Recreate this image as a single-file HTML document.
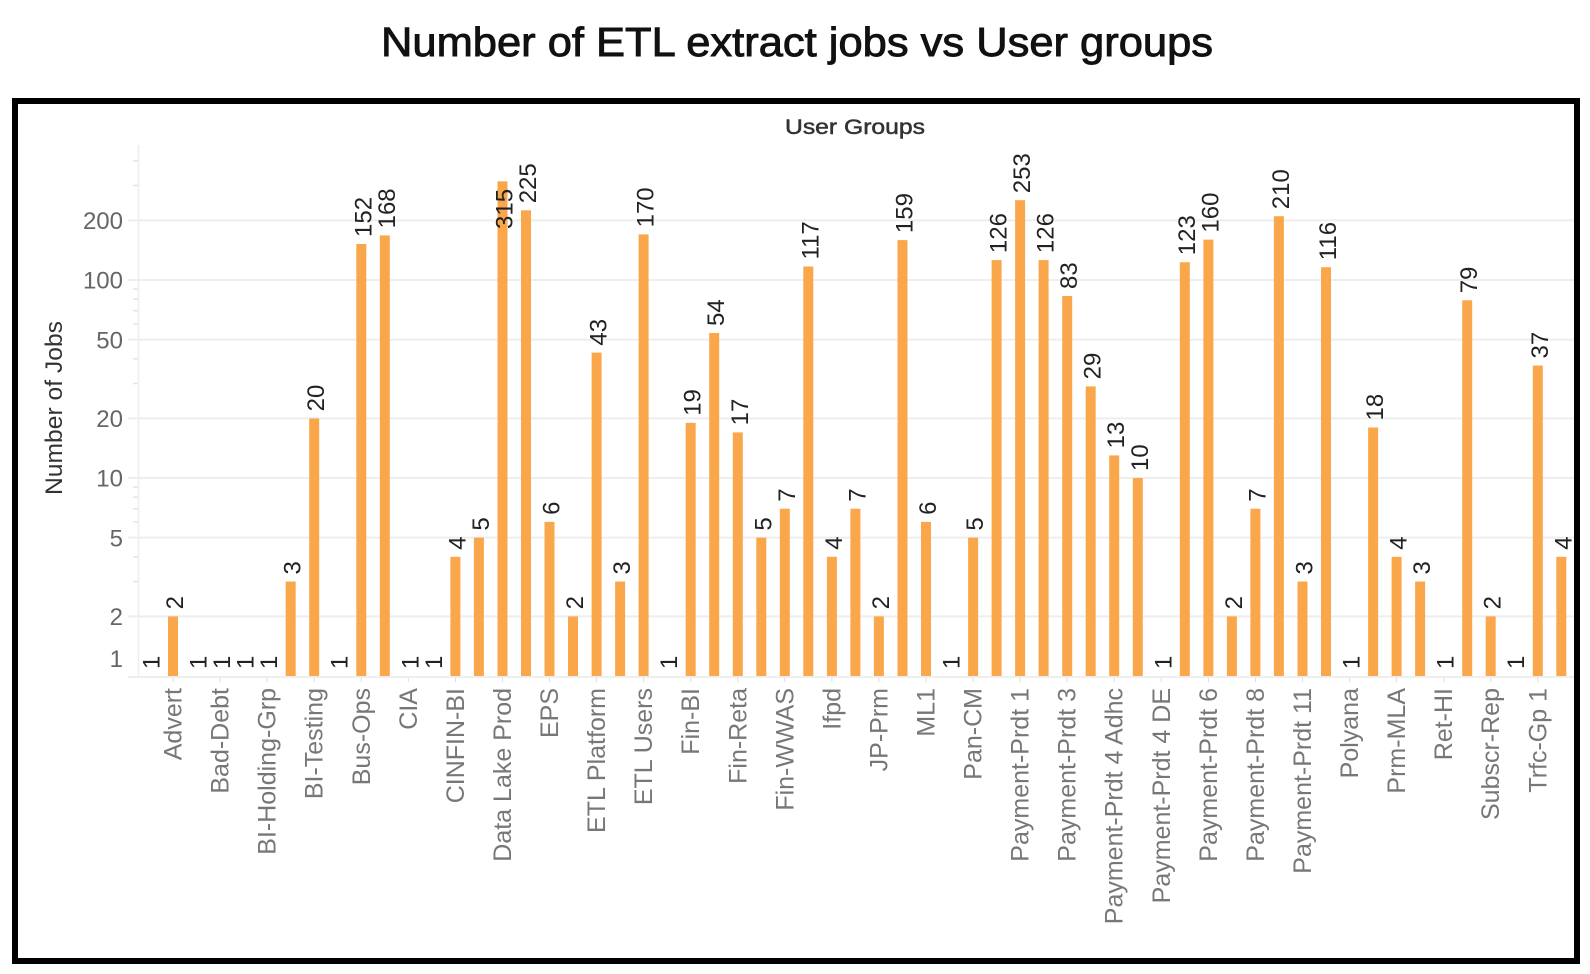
<!DOCTYPE html>
<html>
<head>
<meta charset="utf-8">
<style>
  html, body { margin: 0; padding: 0; background: #ffffff; }
  body { width: 1590px; height: 974px; overflow: hidden; }
  svg { display: block; font-family: "Liberation Sans", "DejaVu Sans", sans-serif; }
  .val { font-size: 24px; fill: #222222; }
  .xl { font-size: 25px; fill: #777777; }
  .yl { font-size: 24px; fill: #666666; }
  .bar { fill: #FAA74C; }
</style>
</head>
<body>
<svg width="1590" height="974" viewBox="0 0 1590 974" xmlns="http://www.w3.org/2000/svg">
  <rect x="0" y="0" width="1590" height="974" fill="#ffffff"/>

  <!-- Title -->
  <text x="381" y="56" font-size="41" fill="#111111" stroke="#111111" stroke-width="0.9" textLength="832" lengthAdjust="spacingAndGlyphs">Number of ETL extract jobs vs User groups</text>

  <!-- Border -->
  <rect x="15" y="101" width="1562" height="860" fill="none" stroke="#000000" stroke-width="6"/>

  <!-- Header -->
  <text x="785" y="134" font-size="21" fill="#333333" stroke="#333333" stroke-width="0.5" textLength="140" lengthAdjust="spacingAndGlyphs">User Groups</text>

  <!-- Y axis title -->
  <text transform="translate(62,408) rotate(-90)" text-anchor="middle" font-size="24" fill="#333333" textLength="174" lengthAdjust="spacingAndGlyphs">Number of Jobs</text>

  <!-- Gridlines -->
  <g stroke="#eeeeee" stroke-width="2">
    <line x1="128" y1="220.4" x2="1574" y2="220.4"/>
    <line x1="128" y1="280" x2="1574" y2="280"/>
    <line x1="128" y1="339.6" x2="1574" y2="339.6"/>
    <line x1="128" y1="418.4" x2="1574" y2="418.4"/>
    <line x1="128" y1="478" x2="1574" y2="478"/>
    <line x1="128" y1="537.6" x2="1574" y2="537.6"/>
    <line x1="128" y1="616.4" x2="1574" y2="616.4"/>
    <line x1="128" y1="677" x2="1574" y2="677"/>
  </g>
  <!-- Y axis line -->
  <line x1="138.5" y1="145" x2="138.5" y2="677" stroke="#eeeeee" stroke-width="1.5"/>
  <!-- Minor ticks -->
  <g stroke="#e4e4e4" stroke-width="1.5">
    <line x1="133" y1="160.8" x2="138" y2="160.8"/>
    <line x1="133" y1="185.5" x2="138" y2="185.5"/>
    <line x1="133" y1="289.1" x2="138" y2="289.1"/>
    <line x1="133" y1="299.2" x2="138" y2="299.2"/>
    <line x1="133" y1="310.7" x2="138" y2="310.7"/>
    <line x1="133" y1="323.9" x2="138" y2="323.9"/>
    <line x1="133" y1="358.8" x2="138" y2="358.8"/>
    <line x1="133" y1="383.5" x2="138" y2="383.5"/>
    <line x1="133" y1="487.1" x2="138" y2="487.1"/>
    <line x1="133" y1="497.2" x2="138" y2="497.2"/>
    <line x1="133" y1="508.7" x2="138" y2="508.7"/>
    <line x1="133" y1="521.9" x2="138" y2="521.9"/>
    <line x1="133" y1="556.8" x2="138" y2="556.8"/>
    <line x1="133" y1="581.5" x2="138" y2="581.5"/>
  </g>

  <!-- Y tick labels -->
  <g class="yl" text-anchor="end">
    <text x="123" y="229">200</text>
    <text x="123" y="288.7">100</text>
    <text x="123" y="348.3">50</text>
    <text x="123" y="427.1">20</text>
    <text x="123" y="486.7">10</text>
    <text x="123" y="546.3">5</text>
    <text x="123" y="625.1">2</text>
    <text x="123" y="667">1</text>
  </g>

  <!-- X tick marks -->
  <g stroke="#dddddd" stroke-width="1">
    <line x1="173" y1="678" x2="173" y2="682"/>
    <line x1="220.1" y1="678" x2="220.1" y2="682"/>
    <line x1="267.2" y1="678" x2="267.2" y2="682"/>
    <line x1="314.2" y1="678" x2="314.2" y2="682"/>
    <line x1="361.3" y1="678" x2="361.3" y2="682"/>
    <line x1="408.3" y1="678" x2="408.3" y2="682"/>
    <line x1="455.4" y1="678" x2="455.4" y2="682"/>
    <line x1="502.5" y1="678" x2="502.5" y2="682"/>
    <line x1="549.5" y1="678" x2="549.5" y2="682"/>
    <line x1="596.6" y1="678" x2="596.6" y2="682"/>
    <line x1="643.6" y1="678" x2="643.6" y2="682"/>
    <line x1="690.7" y1="678" x2="690.7" y2="682"/>
    <line x1="737.8" y1="678" x2="737.8" y2="682"/>
    <line x1="784.8" y1="678" x2="784.8" y2="682"/>
    <line x1="831.9" y1="678" x2="831.9" y2="682"/>
    <line x1="878.9" y1="678" x2="878.9" y2="682"/>
    <line x1="926" y1="678" x2="926" y2="682"/>
    <line x1="973.1" y1="678" x2="973.1" y2="682"/>
    <line x1="1020.1" y1="678" x2="1020.1" y2="682"/>
    <line x1="1067.2" y1="678" x2="1067.2" y2="682"/>
    <line x1="1114.2" y1="678" x2="1114.2" y2="682"/>
    <line x1="1161.3" y1="678" x2="1161.3" y2="682"/>
    <line x1="1208.4" y1="678" x2="1208.4" y2="682"/>
    <line x1="1255.4" y1="678" x2="1255.4" y2="682"/>
    <line x1="1302.5" y1="678" x2="1302.5" y2="682"/>
    <line x1="1349.5" y1="678" x2="1349.5" y2="682"/>
    <line x1="1396.6" y1="678" x2="1396.6" y2="682"/>
    <line x1="1443.7" y1="678" x2="1443.7" y2="682"/>
    <line x1="1490.7" y1="678" x2="1490.7" y2="682"/>
    <line x1="1537.8" y1="678" x2="1537.8" y2="682"/>
  </g>

  <!-- Bars -->
  <g class="bar">
    <rect x="168" y="616.4" width="10" height="59.6"/>
    <rect x="285.7" y="581.5" width="10" height="94.5"/>
    <rect x="309.2" y="418.4" width="10" height="257.6"/>
    <rect x="356.3" y="244" width="10" height="432"/>
    <rect x="379.8" y="235.4" width="10" height="440.6"/>
    <rect x="450.4" y="556.8" width="10" height="119.2"/>
    <rect x="473.9" y="537.6" width="10" height="138.4"/>
    <rect x="497.5" y="181.3" width="10" height="494.7"/>
    <rect x="521" y="210.3" width="10" height="465.7"/>
    <rect x="544.5" y="521.9" width="10" height="154.1"/>
    <rect x="568" y="616.4" width="10" height="59.6"/>
    <rect x="591.6" y="352.6" width="10" height="323.4"/>
    <rect x="615.1" y="581.5" width="10" height="94.5"/>
    <rect x="638.6" y="234.4" width="10" height="441.6"/>
    <rect x="685.7" y="422.8" width="10" height="253.2"/>
    <rect x="709.2" y="333" width="10" height="343"/>
    <rect x="732.8" y="432.4" width="10" height="243.6"/>
    <rect x="756.3" y="537.6" width="10" height="138.4"/>
    <rect x="779.8" y="508.7" width="10" height="167.3"/>
    <rect x="803.3" y="266.5" width="10" height="409.5"/>
    <rect x="826.9" y="556.8" width="10" height="119.2"/>
    <rect x="850.4" y="508.7" width="10" height="167.3"/>
    <rect x="873.9" y="616.4" width="10" height="59.6"/>
    <rect x="897.5" y="240.1" width="10" height="435.9"/>
    <rect x="921" y="521.9" width="10" height="154.1"/>
    <rect x="968.1" y="537.6" width="10" height="138.4"/>
    <rect x="991.6" y="260.1" width="10" height="415.9"/>
    <rect x="1015.1" y="200.2" width="10" height="475.8"/>
    <rect x="1038.6" y="260.1" width="10" height="415.9"/>
    <rect x="1062.2" y="296" width="10" height="380"/>
    <rect x="1085.7" y="386.4" width="10" height="289.6"/>
    <rect x="1109.2" y="455.4" width="10" height="220.6"/>
    <rect x="1132.8" y="478" width="10" height="198"/>
    <rect x="1179.8" y="262.2" width="10" height="413.8"/>
    <rect x="1203.4" y="239.6" width="10" height="436.4"/>
    <rect x="1226.9" y="616.4" width="10" height="59.6"/>
    <rect x="1250.4" y="508.7" width="10" height="167.3"/>
    <rect x="1273.9" y="216.2" width="10" height="459.8"/>
    <rect x="1297.5" y="581.5" width="10" height="94.5"/>
    <rect x="1321" y="267.2" width="10" height="408.8"/>
    <rect x="1368.1" y="427.5" width="10" height="248.5"/>
    <rect x="1391.6" y="556.8" width="10" height="119.2"/>
    <rect x="1415.1" y="581.5" width="10" height="94.5"/>
    <rect x="1462.2" y="300.3" width="10" height="375.7"/>
    <rect x="1485.7" y="616.4" width="10" height="59.6"/>
    <rect x="1532.8" y="365.5" width="10" height="310.5"/>
    <rect x="1556.3" y="556.8" width="10" height="119.2"/>
  </g>

  <!-- Value labels -->
  <g class="val">
    <text transform="translate(159.5,669) rotate(-90)">1</text>
    <text transform="translate(183,609.4) rotate(-90)">2</text>
    <text transform="translate(206.6,669) rotate(-90)">1</text>
    <text transform="translate(230.1,669) rotate(-90)">1</text>
    <text transform="translate(253.6,669) rotate(-90)">1</text>
    <text transform="translate(277.2,669) rotate(-90)">1</text>
    <text transform="translate(300.7,574.5) rotate(-90)">3</text>
    <text transform="translate(324.2,411.4) rotate(-90)">20</text>
    <text transform="translate(347.7,669) rotate(-90)">1</text>
    <text transform="translate(371.3,237) rotate(-90)">152</text>
    <text transform="translate(394.8,228.4) rotate(-90)">168</text>
    <text transform="translate(418.3,669) rotate(-90)">1</text>
    <text transform="translate(441.9,669) rotate(-90)">1</text>
    <text transform="translate(465.4,549.8) rotate(-90)">4</text>
    <text transform="translate(488.9,530.6) rotate(-90)">5</text>
    <text transform="translate(512.5,229) rotate(-90)">315</text>
    <text transform="translate(536,203.3) rotate(-90)">225</text>
    <text transform="translate(559.5,514.9) rotate(-90)">6</text>
    <text transform="translate(583,609.4) rotate(-90)">2</text>
    <text transform="translate(606.6,345.6) rotate(-90)">43</text>
    <text transform="translate(630.1,574.5) rotate(-90)">3</text>
    <text transform="translate(653.6,227.4) rotate(-90)">170</text>
    <text transform="translate(677.2,669) rotate(-90)">1</text>
    <text transform="translate(700.7,415.8) rotate(-90)">19</text>
    <text transform="translate(724.2,326) rotate(-90)">54</text>
    <text transform="translate(747.8,425.4) rotate(-90)">17</text>
    <text transform="translate(771.3,530.6) rotate(-90)">5</text>
    <text transform="translate(794.8,501.7) rotate(-90)">7</text>
    <text transform="translate(818.3,259.5) rotate(-90)">117</text>
    <text transform="translate(841.9,549.8) rotate(-90)">4</text>
    <text transform="translate(865.4,501.7) rotate(-90)">7</text>
    <text transform="translate(888.9,609.4) rotate(-90)">2</text>
    <text transform="translate(912.5,233.1) rotate(-90)">159</text>
    <text transform="translate(936,514.9) rotate(-90)">6</text>
    <text transform="translate(959.5,669) rotate(-90)">1</text>
    <text transform="translate(983.1,530.6) rotate(-90)">5</text>
    <text transform="translate(1006.6,253.1) rotate(-90)">126</text>
    <text transform="translate(1030.1,193.2) rotate(-90)">253</text>
    <text transform="translate(1053.6,253.1) rotate(-90)">126</text>
    <text transform="translate(1077.2,289) rotate(-90)">83</text>
    <text transform="translate(1100.7,379.4) rotate(-90)">29</text>
    <text transform="translate(1124.2,448.4) rotate(-90)">13</text>
    <text transform="translate(1147.8,471) rotate(-90)">10</text>
    <text transform="translate(1171.3,669) rotate(-90)">1</text>
    <text transform="translate(1194.8,255.2) rotate(-90)">123</text>
    <text transform="translate(1218.4,232.6) rotate(-90)">160</text>
    <text transform="translate(1241.9,609.4) rotate(-90)">2</text>
    <text transform="translate(1265.4,501.7) rotate(-90)">7</text>
    <text transform="translate(1288.9,209.2) rotate(-90)">210</text>
    <text transform="translate(1312.5,574.5) rotate(-90)">3</text>
    <text transform="translate(1336,260.2) rotate(-90)">116</text>
    <text transform="translate(1359.5,669) rotate(-90)">1</text>
    <text transform="translate(1383.1,420.5) rotate(-90)">18</text>
    <text transform="translate(1406.6,549.8) rotate(-90)">4</text>
    <text transform="translate(1430.1,574.5) rotate(-90)">3</text>
    <text transform="translate(1453.7,669) rotate(-90)">1</text>
    <text transform="translate(1477.2,293.3) rotate(-90)">79</text>
    <text transform="translate(1500.7,609.4) rotate(-90)">2</text>
    <text transform="translate(1524.2,669) rotate(-90)">1</text>
    <text transform="translate(1547.8,358.5) rotate(-90)">37</text>
    <text transform="translate(1571.3,549.8) rotate(-90)">4</text>
  </g>

  <!-- X axis labels -->
  <g class="xl" text-anchor="end">
    <text transform="translate(181.5,688) rotate(-90)">Advert</text>
    <text transform="translate(228.6,688) rotate(-90)">Bad-Debt</text>
    <text transform="translate(275.7,688) rotate(-90)">BI-Holding-Grp</text>
    <text transform="translate(322.7,688) rotate(-90)">BI-Testing</text>
    <text transform="translate(369.8,688) rotate(-90)">Bus-Ops</text>
    <text transform="translate(416.8,688) rotate(-90)">CIA</text>
    <text transform="translate(463.9,688) rotate(-90)">CINFIN-BI</text>
    <text transform="translate(511,688) rotate(-90)">Data Lake Prod</text>
    <text transform="translate(558,688) rotate(-90)">EPS</text>
    <text transform="translate(605.1,688) rotate(-90)">ETL Platform</text>
    <text transform="translate(652.1,688) rotate(-90)">ETL Users</text>
    <text transform="translate(699.2,688) rotate(-90)">Fin-BI</text>
    <text transform="translate(746.3,688) rotate(-90)">Fin-Reta</text>
    <text transform="translate(793.3,688) rotate(-90)">Fin-WWAS</text>
    <text transform="translate(840.4,688) rotate(-90)">Ifpd</text>
    <text transform="translate(887.4,688) rotate(-90)">JP-Prm</text>
    <text transform="translate(934.5,688) rotate(-90)">ML1</text>
    <text transform="translate(981.6,688) rotate(-90)">Pan-CM</text>
    <text transform="translate(1028.6,688) rotate(-90)">Payment-Prdt 1</text>
    <text transform="translate(1075.7,688) rotate(-90)">Payment-Prdt 3</text>
    <text transform="translate(1122.7,688) rotate(-90)">Payment-Prdt 4 Adhc</text>
    <text transform="translate(1169.8,688) rotate(-90)">Payment-Prdt 4 DE</text>
    <text transform="translate(1216.9,688) rotate(-90)">Payment-Prdt 6</text>
    <text transform="translate(1263.9,688) rotate(-90)">Payment-Prdt 8</text>
    <text transform="translate(1311,688) rotate(-90)">Payment-Prdt 11</text>
    <text transform="translate(1358,688) rotate(-90)">Polyana</text>
    <text transform="translate(1405.1,688) rotate(-90)">Prm-MLA</text>
    <text transform="translate(1452.2,688) rotate(-90)">Ret-HI</text>
    <text transform="translate(1499.2,688) rotate(-90)">Subscr-Rep</text>
    <text transform="translate(1546.3,688) rotate(-90)">Trfc-Gp 1</text>
  </g>
</svg>
</body>
</html>
